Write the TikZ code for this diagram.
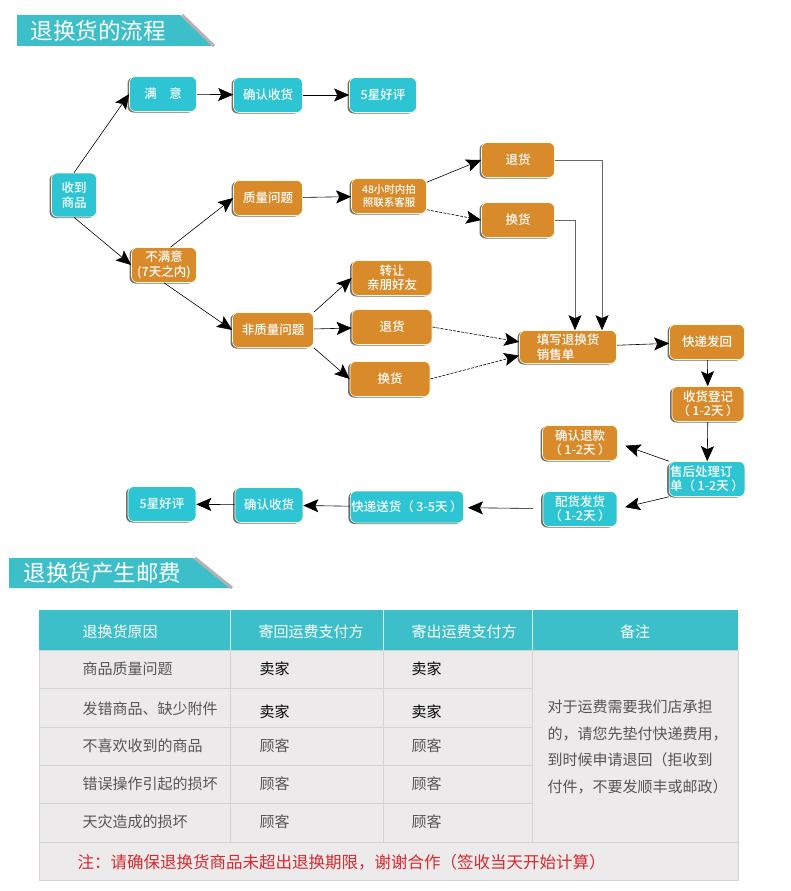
\documentclass[tikz,border=0pt]{standalone}
\usepackage{fontspec}
\usepackage{tikz}
\newfontfamily\cjk{Noto Sans CJK SC}
\newfontfamily\cjkmd{Noto Sans CJK SC Medium}
\usetikzlibrary{arrows.meta,shapes,positioning,calc,shadows}
\definecolor{bandteal}{HTML}{3CBFC8}
\definecolor{boxteal}{HTML}{2DC5D3}
\definecolor{boxorange}{HTML}{D98B2B}
\definecolor{tbgray}{HTML}{ECEAEA}
\definecolor{tbline}{HTML}{D3D3D3}
\definecolor{tbtext}{HTML}{555555}
\definecolor{notered}{HTML}{D42A30}
\newcommand{\days}[1]{（\hspace{0.2em}#1\hspace{0.2em}）}

\begin{document}
\begin{tikzpicture}[x=1pt,y=-1pt,
  font=\cjk\fontsize{12.5}{14.5}\selectfont,
  box/.style={draw=white!85!yellow,line width=0.6pt,rounded corners=6pt,text=white,minimum height=35pt,inner sep=1pt,align=center,
    font=\cjkmd\fontsize{12.5}{14.5}\selectfont,
    drop shadow={shadow xshift=-2pt,shadow yshift=-1pt,fill=black!75,opacity=.75}},
  tl/.style={box,fill=boxteal},
  og/.style={box,fill=boxorange},
  arr/.style={-{Stealth[length=15pt,width=13pt,inset=3pt]},semithick},
  dsh/.style={arr,dash pattern=on 3pt off 1.2pt},
  elb/.style={-{Stealth[length=15pt,width=13pt,inset=3pt,color=black]},semithick,draw=black!60},
  band/.style={anchor=west,text=white,font=\cjk\fontsize{22.5}{24}\selectfont},
  th/.style={anchor=west,text=white,font=\cjk\fontsize{15}{17}\selectfont},
  td/.style={anchor=west,text=tbtext,font=\cjk\fontsize{15}{17}\selectfont},
  tdk/.style={td,text=black}]
\useasboundingbox (0,0) rectangle (790,891);
% title bands
\fill[bandteal] (17,15)--(180,15)--(212,46)--(17,46)--cycle;
\draw[gray!60,line width=3pt] (182,15)--(214,46);
\node[band](title1) at (27,31){退换货的流程};
\fill[bandteal] (9,558)--(193,558)--(230,588)--(9,588)--cycle;
\draw[gray!60,line width=3pt] (195,558)--(232,588);
\node[band](title2) at (20,573){退换货产生邮费};
% flow nodes
\node[tl,minimum width=45pt,minimum height=44pt](recv) at (74,195){收到\\商品};
\node[tl,minimum width=67pt](sat) at (163,94){满\quad 意};
\node[tl,minimum width=69pt](conf1) at (268,95){确认收货};
\node[tl,minimum width=67pt](star1) at (383,95){5星好评};
\node[og,minimum width=65pt](unsat) at (164,265){不满意\\(7天之内)};
\node[og,minimum width=69pt](qual) at (268,198){质量问题};
\node[og,minimum width=75pt,font=\cjkmd\fontsize{10.5}{13}\selectfont](photo) at (389,196){48小时内拍\\照联系客服};
\node[og,minimum width=81pt](nonq) at (273,330){非质量问题};
\node[og,minimum width=80pt](gift) at (392,278){转让\\亲朋好友};
\node[og,minimum width=80pt](ret2) at (392,327){退货};
\node[og,minimum width=80pt](exc2) at (390,379){换货};
\node[og,minimum width=73pt](ret1) at (518,160){退货};
\node[og,minimum width=73pt](exc1) at (518,220){换货};
\node[og,minimum width=97pt,minimum height=33pt,align=left](form) at (568,347){填写退换货\\销售单};
\node[og,minimum width=75pt](back) at (707,342){快递发回};
\node[og,minimum width=72pt](reg) at (708,404){收货登记\\\days{1-2天}};
\node[og,minimum width=75pt](refund) at (580,443){确认退款\\\days{1-2天}};
\node[tl,minimum width=75pt,align=left](after) at (707,479){售后处理订\\单\days{1-2天}};
\node[tl,minimum width=74pt](ship) at (580,509){配货发货\\\days{1-2天}};
\node[tl,minimum width=113pt,minimum height=32pt](post) at (407,507){快递送货\days{3-5天}};
\node[tl,minimum width=68pt](conf2) at (269,505){确认收货};
\node[tl,minimum width=68pt](star2) at (162,504){5星好评};
% connectors
\draw[arr](recv.north)--(sat.west);
\draw[arr](recv.south)--(unsat.west);
\draw[arr](sat)--(conf1);
\draw[arr](conf1)--(star1);
\draw[arr](unsat.70)--(qual.west);
\draw[arr](unsat.south)--(nonq.west);
\draw[arr](qual)--(photo);
\draw[arr](photo.20)--(ret1.west);
\draw[dsh](photo.-20)--(exc1.west);
\draw[arr](nonq.north east)--(gift.west);
\draw[arr](nonq)--(ret2);
\draw[arr](nonq.south east)--(exc2.west);
\draw[dsh](ret2.east)--(form.174);
\draw[dsh](exc2.east)--(form.190);
\draw[elb](ret1.east)-|($(form.north)+(34,0)$);
\draw[elb](exc1.east)-|($(form.north)+(7,0)$);
\draw[arr](form)--(back);
\draw[arr](back)--(reg);
\draw[arr](reg)--(after);
\draw[arr,shorten >=8pt](after.north west)--(refund.east);
\draw[arr,shorten >=8pt](after.south west)--(ship.east);
\draw[arr,shorten <=10pt,shorten >=4pt](ship)--(post);
\draw[arr](post)--(conf2);
\draw[arr](conf2)--(star2);
% fee table
\fill[bandteal] (39,610) rectangle (738,650);
\fill[tbgray] (39,650) rectangle (738,880);
\draw[white!80!bandteal,line width=1pt] (230,610)--(230,650) (383,610)--(383,650) (532,610)--(532,650);
\draw[tbline,line width=1pt] (39,688)--(532,688) (39,727)--(532,727) (39,765)--(532,765) (39,803)--(532,803)
  (39,842)--(738,842) (230,650)--(230,842) (383,650)--(383,842) (532,650)--(532,842)
  (39,650) rectangle (738,880);
\node[th](hwhy) at (79,632){退换货原因};
\node[th](hback) at (255,632){寄回运费支付方};
\node[th](hout) at (408,632){寄出运费支付方};
\node[th,anchor=center](hnote) at (635,632){备注};
\node[td](why1) at (79,669){商品质量问题};
\node[tdk](back1) at (256,669){卖家};
\node[tdk](out1) at (408,669){卖家};
\node[td](why2) at (79,709){发错商品、缺少附件};
\node[tdk](back2) at (256,712){卖家};
\node[tdk](out2) at (408,712){卖家};
\node[td](why3) at (79,746){不喜欢收到的商品};
\node[td](back3) at (256,746){顾客};
\node[td](out3) at (408,746){顾客};
\node[td](why4) at (79,784){错误操作引起的损坏};
\node[td](back4) at (256,784){顾客};
\node[td](out4) at (408,784){顾客};
\node[td](why5) at (79,822){天灾造成的损坏};
\node[td](back5) at (256,822){顾客};
\node[td](out5) at (408,822){顾客};
\node[td,align=left,font=\cjk\fontsize{15}{26.5}\selectfont](remark) at (544,747){对于运费需要我们店承担\\的，请您先垫付快递费用，\\到时候申请退回（拒收到\\付件，不要发顺丰或邮政）};
\node[td,text=notered,font=\cjk\fontsize{16.5}{18}\selectfont](note) at (74,862){注：请确保退换货商品未超出退换期限，谢谢合作（签收当天开始计算）};
\end{tikzpicture}
\end{document}
